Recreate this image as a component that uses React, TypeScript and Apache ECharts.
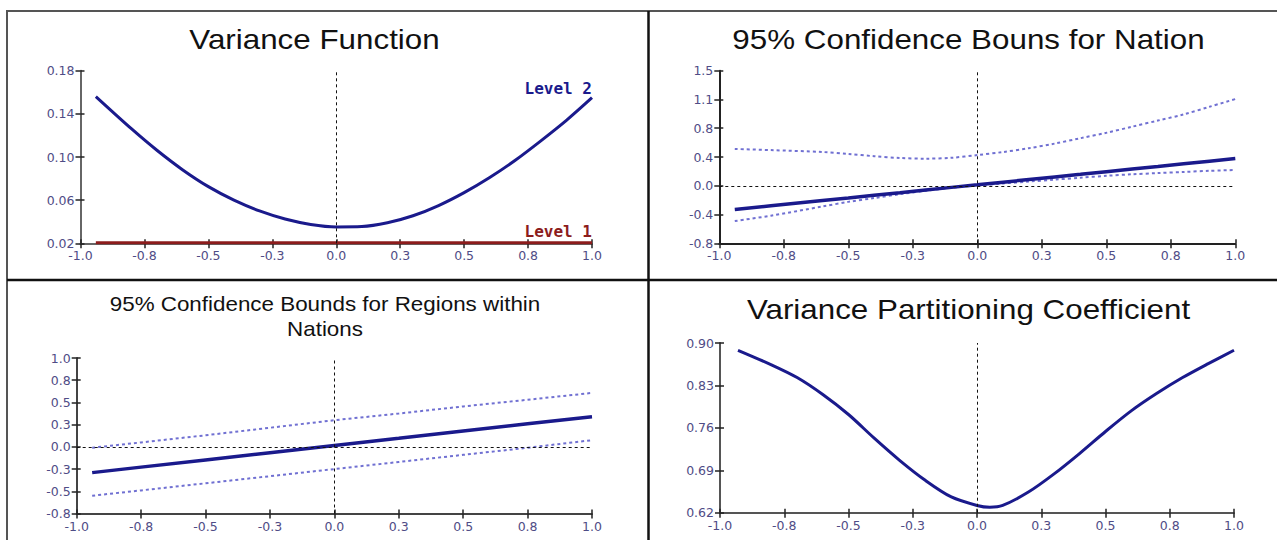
import React, { useEffect, useRef } from 'react';
import * as echarts from 'echarts';

// ---------- tick values / labels ----------
const xTickValues = [-1, -0.75, -0.5, -0.25, 0, 0.25, 0.5, 0.75, 1];
const xTickLabels = ['-1.0', '-0.8', '-0.5', '-0.3', '0.0', '0.3', '0.5', '0.8', '1.0'];

const varTickValues = [0.02, 0.06, 0.1, 0.14, 0.18];
const varTickLabels = ['0.02', '0.06', '0.10', '0.14', '0.18'];

const nationTickValues = [-0.75, -0.375, 0, 0.375, 0.75, 1.125, 1.5];
const nationTickLabels = ['-0.8', '-0.4', '0.0', '0.4', '0.8', '1.1', '1.5'];

const regionTickValues = [-0.75, -0.5, -0.25, 0, 0.25, 0.5, 0.75, 1.0];
const regionTickLabels = ['-0.8', '-0.5', '-0.3', '0.0', '0.3', '0.5', '0.8', '1.0'];

const vpcTickValues = [0.62, 0.69, 0.76, 0.83, 0.9];
const vpcTickLabels = ['0.62', '0.69', '0.76', '0.83', '0.90'];

// ---------- titles ----------
const titles = [
  'Variance Function',
  '95% Confidence Bouns for Nation',
  '95% Confidence Bounds for Regions within\nNations',
  'Variance Partitioning Coefficient',
];

// ---------- Variance function ----------
const varX = [-0.94, -0.8, -0.7, -0.6, -0.5, -0.4, -0.3, -0.2, -0.1, 0, 0.1, 0.2, 0.3, 0.4, 0.5, 0.6, 0.7, 0.8, 0.9, 1.0];
const varLevel2 = [0.156, 0.126, 0.106, 0.088, 0.0725, 0.06, 0.05, 0.0425, 0.0375, 0.0352, 0.0355, 0.039, 0.0455, 0.055, 0.067, 0.081, 0.097, 0.115, 0.134, 0.155];
const varLevel1X = [-0.94, 1.0];
const varLevel1 = [0.0205, 0.0205];

// ---------- Nation bounds ----------
const nationX = [-0.94, -0.8, -0.6, -0.5, -0.4, -0.3, -0.2, -0.1, 0, 0.1, 0.2, 0.3, 0.4, 0.5, 0.6, 0.7, 0.8, 0.9, 1.0];
const nationEst = [-0.31, -0.262, -0.193, -0.159, -0.124, -0.09, -0.055, -0.021, 0.012, 0.047, 0.081, 0.115, 0.149, 0.184, 0.218, 0.252, 0.287, 0.321, 0.355];
const nationUpper = [0.48, 0.465, 0.44, 0.415, 0.385, 0.362, 0.353, 0.365, 0.4, 0.44, 0.49, 0.55, 0.62, 0.69, 0.77, 0.85, 0.93, 1.03, 1.13];
const nationLower = [-0.46, -0.39, -0.27, -0.21, -0.16, -0.11, -0.065, -0.025, 0.005, 0.03, 0.055, 0.08, 0.105, 0.13, 0.15, 0.165, 0.18, 0.195, 0.205];

// ---------- Region bounds ----------
const regionX = [-0.94, -0.75, -0.5, -0.25, 0, 0.25, 0.5, 0.75, 1.0];
const regionEst = [-0.29, -0.228, -0.147, -0.066, 0.015, 0.096, 0.178, 0.259, 0.34];
const regionUpper = [-0.01, 0.05, 0.13, 0.215, 0.3, 0.375, 0.455, 0.53, 0.607];
const regionLower = [-0.55, -0.49, -0.41, -0.33, -0.25, -0.17, -0.09, -0.01, 0.075];

// ---------- VPC ----------
const vpcX = [-0.93, -0.8, -0.7, -0.6, -0.5, -0.4, -0.3, -0.2, -0.1, 0, 0.05, 0.1, 0.2, 0.3, 0.4, 0.5, 0.6, 0.7, 0.8, 0.9, 1.0];
const vpc = [0.888, 0.864, 0.843, 0.815, 0.782, 0.743, 0.706, 0.673, 0.646, 0.632, 0.629, 0.632, 0.654, 0.684, 0.718, 0.754, 0.788, 0.817, 0.843, 0.866, 0.888];

const NAVY = '#1a1a8c';
const DOT = '#7070d2';
const RED = '#8c1c1c';
const LABEL = '#4f4c86';
const FONT = 'DejaVu Sans';

const zip = (xs: number[], ys: number[]) => xs.map((x, i) => [x, ys[i]]);
const labelFor = (vals: number[], labels: string[]) => (v: number) => {
  const i = vals.findIndex((t) => Math.abs(t - v) < 1e-6);
  return i >= 0 ? labels[i] : '';
};

function axisPair(
  dim: 'x' | 'y',
  gridIndex: number,
  min: number,
  max: number,
  ticks: number[],
  labels: string[],
  color: string
) {
  const position = dim === 'x' ? 'bottom' : 'left';
  const main = {
    type: 'value',
    gridIndex,
    min,
    max,
    position,
    axisLine: { show: true, onZero: false, lineStyle: { color, width: 2 } },
    axisTick: { show: true, customValues: ticks, length: 5, inside: false, lineStyle: { color: '#222', width: 1.5 } },
    axisLabel: {
      show: true,
      customValues: ticks,
      formatter: labelFor(ticks, labels),
      color: LABEL,
      fontFamily: FONT,
      fontSize: 12.5,
      margin: 6,
    },
    splitLine: { show: false },
  };
  const twin = {
    type: 'value',
    gridIndex,
    min,
    max,
    position,
    axisLine: { show: false, onZero: false },
    axisTick: { show: true, customValues: ticks, length: 4, inside: true, lineStyle: { color: '#222', width: 1.5 } },
    axisLabel: { show: false },
    splitLine: { show: false },
  };
  return [main, twin];
}

const dashRef = { color: '#111', width: 1, type: [3, 3] };

function refLines(vertical: boolean, horizontal: boolean) {
  const data: any[] = [];
  if (vertical) data.push({ xAxis: 0 });
  if (horizontal) data.push({ yAxis: 0 });
  return {
    silent: true,
    symbol: 'none',
    label: { show: false },
    lineStyle: dashRef,
    data,
  };
}

function buildOption() {
  const grids = [
    { left: 80.5, top: 70.7, width: 511.5, height: 172.6 },
    { left: 719.3, top: 70.7, width: 516, height: 172.6 },
    { left: 76.7, top: 358, width: 515.3, height: 155.5 },
    { left: 720, top: 343, width: 514, height: 169.7 },
  ];
  const axisColors = ['#666', '#222', '#444', '#555'];
  const yDefs = [
    [0.02, 0.18, varTickValues, varTickLabels],
    [-0.75, 1.5, nationTickValues, nationTickLabels],
    [-0.75, 1.0, regionTickValues, regionTickLabels],
    [0.62, 0.9, vpcTickValues, vpcTickLabels],
  ] as const;

  const xAxis: any[] = [];
  const yAxis: any[] = [];
  grids.forEach((_, i) => {
    xAxis.push(...axisPair('x', i, -1, 1, xTickValues, xTickLabels, axisColors[i]));
    const d = yDefs[i];
    yAxis.push(...axisPair('y', i, d[0], d[1], d[2] as number[], d[3] as string[], axisColors[i]));
  });

  const base = (i: number) => ({
    type: 'line',
    xAxisIndex: 2 * i,
    yAxisIndex: 2 * i,
    showSymbol: false,
    symbol: 'none',
  });
  const solid = (w = 3) => ({ color: NAVY, width: w, type: 'solid' });
  const dotted = { color: DOT, width: 2, type: [3, 3] };

  const series: any[] = [
    // Variance function
    {
      ...base(0),
      name: 'Level 1',
      data: zip(varLevel1X, varLevel1),
      lineStyle: { color: RED, width: 3 },
      itemStyle: { color: RED },
      endLabel: {
        show: true,
        formatter: 'Level 1',
        color: RED,
        fontFamily: 'DejaVu Sans Mono',
        fontWeight: 'bold',
        fontSize: 16,
        align: 'right',
        verticalAlign: 'bottom',
        distance: 0,
        offset: [0, -3],
      },
      z: 3,
    },
    {
      ...base(0),
      name: 'Level 2',
      data: zip(varX, varLevel2),
      smooth: 0.3,
      lineStyle: solid(3),
      itemStyle: { color: NAVY },
      endLabel: {
        show: true,
        formatter: 'Level 2',
        color: NAVY,
        fontFamily: 'DejaVu Sans Mono',
        fontWeight: 'bold',
        fontSize: 16,
        align: 'right',
        verticalAlign: 'bottom',
        distance: 0,
        offset: [0, -1],
      },
      markLine: refLines(true, false),
    },
    // Nation
    {
      ...base(1),
      name: 'Nation upper',
      data: zip(nationX, nationUpper),
      smooth: 0.3,
      lineStyle: dotted,
      itemStyle: { color: DOT },
      markLine: refLines(true, true),
    },
    {
      ...base(1),
      name: 'Nation lower',
      data: zip(nationX, nationLower),
      smooth: 0.3,
      lineStyle: dotted,
      itemStyle: { color: DOT },
    },
    {
      ...base(1),
      name: 'Nation',
      data: zip(nationX, nationEst),
      lineStyle: solid(3.5),
      itemStyle: { color: NAVY },
      z: 4,
    },
    // Regions
    {
      ...base(2),
      name: 'Region upper',
      data: zip(regionX, regionUpper),
      lineStyle: dotted,
      itemStyle: { color: DOT },
      markLine: refLines(true, true),
    },
    {
      ...base(2),
      name: 'Region lower',
      data: zip(regionX, regionLower),
      lineStyle: dotted,
      itemStyle: { color: DOT },
    },
    {
      ...base(2),
      name: 'Region',
      data: zip(regionX, regionEst),
      lineStyle: solid(3.5),
      itemStyle: { color: NAVY },
      z: 4,
    },
    // VPC
    {
      ...base(3),
      name: 'VPC',
      data: zip(vpcX, vpc),
      smooth: 0.3,
      lineStyle: solid(3),
      itemStyle: { color: NAVY },
      markLine: refLines(true, false),
    },
  ];

  const titleStyle = (text: string, size: number) => ({
    text,
    fill: '#111',
    font: `${size}px "Liberation Sans", Arial, sans-serif`,
    textAlign: 'center',
    textVerticalAlign: 'middle',
    align: 'center',
    verticalAlign: 'middle',
    lineHeight: 25,
  });

  const graphic: any[] = [
    {
      type: 'rect',
      shape: { x: 7, y: 11, width: 1290, height: 560 },
      style: { fill: 'none', stroke: '#555', lineWidth: 2 },
      silent: true,
      z: 10,
    },
    {
      type: 'line',
      shape: { x1: 648.5, y1: 11, x2: 648.5, y2: 540 },
      style: { stroke: '#111', lineWidth: 2.5 },
      silent: true,
      z: 10,
    },
    {
      type: 'line',
      shape: { x1: 7, y1: 280, x2: 1277, y2: 280 },
      style: { stroke: '#111', lineWidth: 2.5 },
      silent: true,
      z: 10,
    },
    { type: 'text', x: 314.5, y: 39, scaleX: 1.12, style: titleStyle(titles[0], 28), z: 10 },
    { type: 'text', x: 968.5, y: 39, scaleX: 1.12, style: titleStyle(titles[1], 28), z: 10 },
    { type: 'text', x: 325, y: 316, scaleX: 1.12, style: titleStyle(titles[2], 20), z: 10 },
    { type: 'text', x: 968.5, y: 309, scaleX: 1.12, style: titleStyle(titles[3], 28), z: 10 },
  ];

  return {
    animation: false,
    backgroundColor: '#fff',
    grid: grids,
    xAxis,
    yAxis,
    series,
    graphic,
  };
}

export default function App() {
  const ref = useRef<HTMLDivElement>(null);
  useEffect(() => {
    if (!ref.current) return;
    const chart = echarts.init(ref.current, null, { renderer: 'svg' });
    chart.setOption(buildOption() as any);
    return () => chart.dispose();
  }, []);
  return (
    <div
      ref={ref}
      style={{ position: 'absolute', left: 0, top: 0, width: 1277, height: 540, background: '#fff' }}
    />
  );
}
